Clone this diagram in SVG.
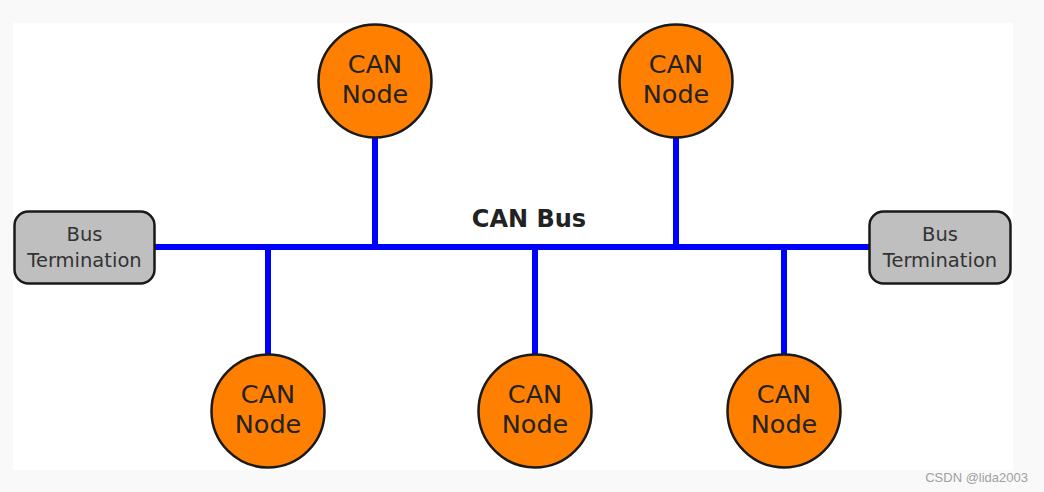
<svg xmlns="http://www.w3.org/2000/svg" width="1044" height="492" viewBox="0 0 1044 492">
<style>
.node circle{fill:#ff7f00;stroke:#1a1a1a;stroke-width:2.5}
.node text{font-family:"DejaVu Sans",sans-serif;font-size:25.5px;fill:#222;text-anchor:middle}
.term rect{fill:#bfbfbf;stroke:#1a1a1a;stroke-width:2.5}
.term text{font-family:"DejaVu Sans",sans-serif;font-size:19.5px;fill:#333;text-anchor:middle}
.bus line{stroke:#0000ff;stroke-width:6}
</style>
<rect x="0" y="0" width="1044" height="492" fill="#f9f9f9"/>
<rect x="13" y="23" width="1000" height="447" fill="#ffffff"/>
<g id="connectors" class="bus">
<line x1="154" y1="247" x2="870" y2="247"/>
<line x1="375" y1="137" x2="375" y2="247"/>
<line x1="676" y1="137" x2="676" y2="247"/>
<line x1="268" y1="247" x2="268" y2="355"/>
<line x1="535" y1="247" x2="535" y2="355"/>
<line x1="784" y1="247" x2="784" y2="355"/>
</g>
<text x="529" y="227" font-family="DejaVu Sans, sans-serif" font-weight="bold" font-size="24" fill="#222" text-anchor="middle">CAN Bus</text>
<g id="term-left" class="term"><rect x="14.5" y="211.5" width="140" height="72" rx="14"/><text x="84.5" y="241">Bus</text><text x="84.5" y="267">Termination</text></g>
<g id="term-right" class="term"><rect x="869.5" y="211.5" width="141" height="72" rx="14"/><text x="940" y="241">Bus</text><text x="940" y="267">Termination</text></g>
<g id="node-top1" class="node"><circle cx="375" cy="81" r="56.5"/><text x="375" y="73">CAN</text><text x="375" y="103">Node</text></g>
<g id="node-top2" class="node"><circle cx="676" cy="81" r="56.5"/><text x="676" y="73">CAN</text><text x="676" y="103">Node</text></g>
<g id="node-bot1" class="node"><circle cx="268" cy="411" r="56.5"/><text x="268" y="403">CAN</text><text x="268" y="433">Node</text></g>
<g id="node-bot2" class="node"><circle cx="535" cy="411" r="56.5"/><text x="535" y="403">CAN</text><text x="535" y="433">Node</text></g>
<g id="node-bot3" class="node"><circle cx="784" cy="411" r="56.5"/><text x="784" y="403">CAN</text><text x="784" y="433">Node</text></g>
<text x="1028" y="482" font-family="Liberation Sans, sans-serif" font-size="13" fill="#a0a0a0" text-anchor="end">CSDN @lida2003</text>
</svg>
